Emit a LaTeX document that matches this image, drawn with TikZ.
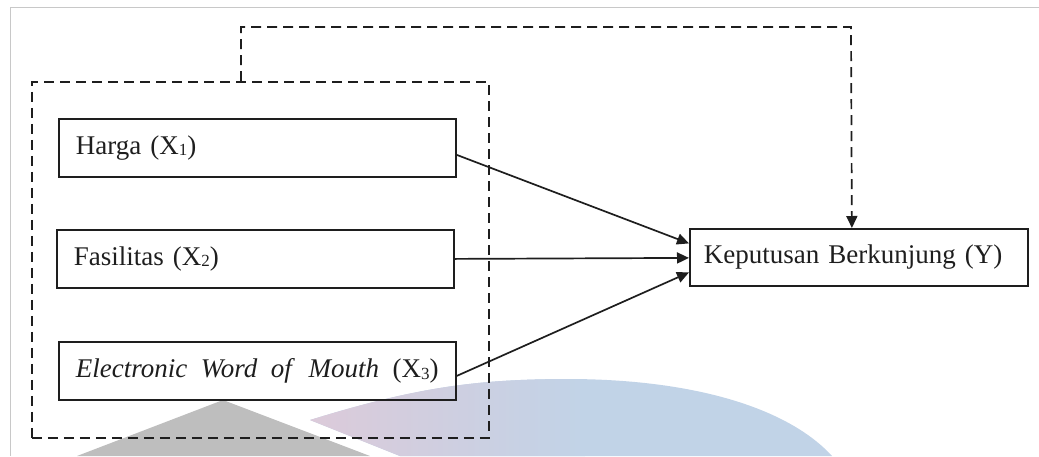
\documentclass[tikz,border=0pt]{standalone}
\usepackage{fontspec}
\setmainfont{Liberation Serif}
\usetikzlibrary{arrows.meta,calc}
\definecolor{wmgrey}{HTML}{BEBEBE}
\definecolor{wmpink}{HTML}{DDCAD9}
\definecolor{wmblue}{HTML}{C1D3E7}
\definecolor{framegrey}{HTML}{C8C8C8}
\definecolor{ink}{HTML}{1E1E1E}
\newcommand{\sbs}[1]{{\fontsize{17}{17}\selectfont\raisebox{-1.5pt}{#1}}}
\newcommand{\wsp}{\hspace{13.5pt}}
\begin{document}
\begin{tikzpicture}[x=1pt,y=-1pt,
  every node/.style={font=\fontsize{27}{32}\selectfont, text=ink},
  varbox/.style={draw=ink, line width=1.8pt, minimum height=58pt, inner ysep=0pt,
    inner xsep=17pt, text width=363pt, align=left, anchor=north west},
  ybox/.style={draw=ink, line width=1.8pt, minimum height=57pt, inner ysep=0pt,
    inner xsep=14pt, text width=310pt, align=left, anchor=north west},
  grpbox/.style={draw=ink, line width=1.7pt, dash pattern=on 10pt off 6pt,
    minimum width=457pt, minimum height=356pt, inner sep=0pt, anchor=north west},
  arr/.style={draw=ink, line width=1.7pt, -{Triangle[length=12pt,width=11pt]}},
  dasharr/.style={draw=ink, line width=1.7pt, dash pattern=on 10pt off 6pt,
    -{Triangle[length=12pt,width=11pt]}}
]
\useasboundingbox (0,0) rectangle (1039,456);
% page frame
\draw[framegrey, line width=1pt] (10,456) -- (10,7) -- (1039,7);
% watermark shapes
\fill[wmgrey] (223,400) -- (370,456) -- (77,456) -- cycle;
\begin{scope}
  \clip (310,420) .. controls (420,386) and (480,379) .. (573,379)
        .. controls (700,380) and (790,410) .. (832,456) -- (400,456) -- cycle;
  \fill[wmblue] (300,370) rectangle (840,460);
  \shade[left color=wmpink, right color=wmblue] (300,370) rectangle (585,460);
\end{scope}
% group box
\node[grpbox] (g) at (31,81) {};
% variable boxes
\node[varbox] (h) at (58,118) {Harga (X\sbs{1})};
\node[varbox] (f) at (56,229) {Fasilitas (X\sbs{2})};
\node[varbox] (e) at (58,341) {\mbox{\textit{Electronic}\wsp\textit{Word}\wsp\textit{of}\wsp\textit{Mouth}\wsp(X\sbs{3})}};
\node[ybox] (y) at (689,228) {Keputusan Berkunjung (Y)};
% arrows
\draw[arr] ($(h.east)+(0,7)$) -- ($(y.west)+(0,-14)$);
\draw[arr] (f.east) -- ($(y.west)+(0,0.5)$);
\draw[arr] ($(e.east)+(0,5)$) -- ($(y.west)+(0,15)$);
% dashed connector
\coordinate (gtop) at ($(g.north west)+(210,0)$);
\coordinate (corner) at (851,27);
\coordinate (ytop) at ($(y.north)+(-7,0)$);
\draw[dasharr] (gtop) |- (corner) -- (ytop);
\end{tikzpicture}
\end{document}
